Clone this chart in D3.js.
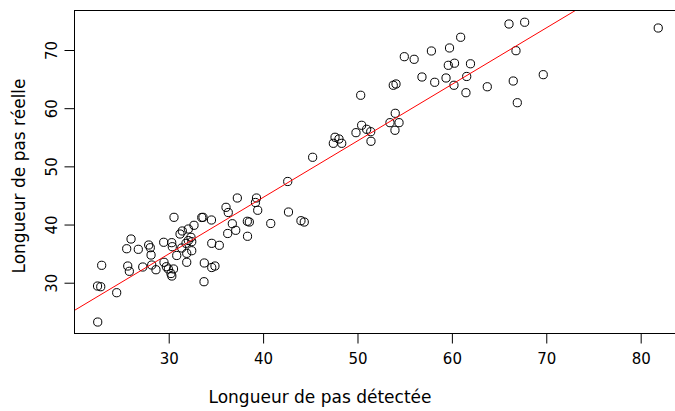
<!DOCTYPE html>
<html><head><meta charset="utf-8">
<script src="https://cdn.jsdelivr.net/npm/d3@7/dist/d3.min.js"></script>
<style>
html,body{margin:0;padding:0;background:#fff;}
svg{display:block;}
text{font-family:"DejaVu Sans",sans-serif;fill:#000;}
</style></head>
<body>
<svg id="chart" width="675" height="411"></svg>
<script>
// Detected step length (x) and real step length (y)
const detected = [22.48,22.46,22.80,22.90,24.49,25.55,26.01,26.78,25.66,25.83,27.25,27.88,28.05,28.13,28.20,28.65,
29.47,30.32,30.38,30.56,29.50,29.75,29.96,30.51,30.24,30.33,30.85,31.20,31.44,32.08,32.68,31.38,31.83,32.08,32.36,32.44,
31.91,32.44,31.91,33.50,33.63,34.53,33.77,33.74,34.56,34.90,34.56,35.36,36.07,36.31,36.74,36.25,37.10,37.27,38.33,38.54,
38.35,39.30,39.19,39.43,40.81,42.61,42.69,44.01,44.36,45.25,47.62,48.04,47.44,48.33,49.84,50.44,50.97,51.40,51.43,50.34,
53.44,54.40,54.00,53.97,53.79,54.08,54.96,56.00,56.83,57.83,58.18,59.38,59.75,59.62,60.28,60.22,60.93,61.57,61.49,61.97,
63.75,66.05,67.71,66.79,66.50,66.93,69.68,81.86];
const actual = [23.24,29.43,29.31,32.99,28.28,35.84,37.51,35.74,32.87,31.96,32.70,36.48,36.02,34.76,33.04,32.23,
36.95,36.88,36.19,41.24,33.51,32.75,32.36,32.36,31.58,31.15,34.68,38.37,38.89,39.23,39.87,35.97,36.77,37.25,37.80,37.05,
35.05,35.50,33.51,41.21,41.24,40.78,33.39,30.17,32.61,32.87,36.77,36.43,42.96,42.07,40.14,38.46,39.01,44.56,40.56,40.43,
37.98,44.56,43.79,42.45,40.18,47.40,42.15,40.66,40.43,51.56,55.00,54.70,53.96,53.96,55.79,57.06,56.37,55.96,54.31,62.22,
57.51,57.51,59.12,56.20,63.94,64.16,68.85,68.40,65.36,69.83,64.45,65.19,70.35,67.37,67.73,63.94,72.19,65.45,62.66,67.63,
63.68,74.47,74.77,69.88,64.67,60.94,65.76,73.78];
const xTicks = [30,40,50,60,70,80];
const yTicks = [30,40,50,60,70];
const fitIntercept = 5.80;
const fitSlope = 0.9714;
const xLabel = "Longueur de pas détectée";
const yLabel = "Longueur de pas réelle";

const svg = d3.select("#chart");
const L = 74.5, R = 684, T = 10.5, B = 333.5;
const x = d3.scaleLinear().domain([20.02, 84.59]).range([L, R]);
const y = d3.scaleLinear().domain([21.27, 76.79]).range([B, T]);

svg.append("clipPath").attr("id","clip").append("rect")
  .attr("x",L).attr("y",T).attr("width",R-L).attr("height",B-T);

// points
svg.append("g").selectAll("circle").data(detected.map((d,i)=>[d,actual[i]])).join("circle")
  .attr("cx",d=>x(d[0])).attr("cy",d=>y(d[1])).attr("r",4.1)
  .attr("fill","none").attr("stroke","#000").attr("stroke-width",1);

// regression line
const xd = x.domain();
svg.append("line").attr("clip-path","url(#clip)")
  .attr("x1",x(xd[0])).attr("y1",y(fitIntercept+fitSlope*xd[0]))
  .attr("x2",x(xd[1])).attr("y2",y(fitIntercept+fitSlope*xd[1]))
  .attr("stroke","#ff0000").attr("stroke-width",1);

// box
svg.append("rect").attr("x",L).attr("y",T).attr("width",R-L).attr("height",B-T)
  .attr("fill","none").attr("stroke","#000").attr("stroke-width",1);

// x axis
const gx = svg.append("g").attr("transform",`translate(0,${B})`)
  .call(d3.axisBottom(x).tickValues(xTicks).tickSize(10).tickFormat(d3.format("d")));
gx.select(".domain").remove();
gx.selectAll(".tick line").attr("stroke","#000");
gx.selectAll(".tick text").attr("y",30.5).attr("dy",0).style("font-size","15px")
  .style("font-family","DejaVu Sans").attr("fill","#000");

// y axis
const gy = svg.append("g").attr("transform",`translate(${L},0)`)
  .call(d3.axisLeft(y).tickValues(yTicks).tickSize(10).tickFormat(d3.format("d")));
gy.select(".domain").remove();
gy.selectAll(".tick line").attr("stroke","#000");
gy.selectAll(".tick text").attr("x",0).attr("dy",0).attr("text-anchor","middle")
  .attr("transform","translate(-17.5,0) rotate(-90)")
  .style("font-size","15px").style("font-family","DejaVu Sans").attr("fill","#000");

// axis titles
svg.append("text").attr("x",320).attr("y",403).attr("text-anchor","middle")
  .style("font-size","17px").text(xLabel);
svg.append("text").attr("transform","translate(24.5,176) rotate(-90)").attr("text-anchor","middle")
  .style("font-size","17px").text(yLabel);
</script>
</body></html>
